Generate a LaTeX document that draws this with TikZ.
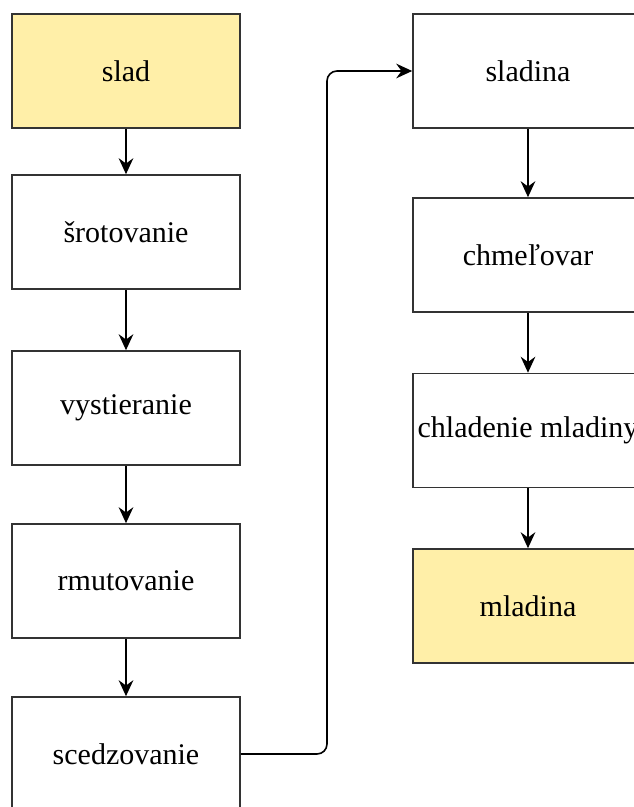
\documentclass[tikz,border=0pt]{standalone}
\usepackage{fontspec}
\setmainfont{Liberation Serif}
\usetikzlibrary{arrows.meta}
\definecolor{boxline}{HTML}{333333}
\definecolor{boxyellow}{HTML}{FFEFA8}
\tikzset{
  stepbox/.style={draw=boxline, line width=1.2pt, fill=white, rectangle,
    minimum width=171pt, minimum height=85.5pt, inner sep=0pt,
    font=\fontsize{22.5pt}{26pt}\selectfont},
  rightbox/.style={stepbox, minimum width=172.5pt},
  endbox/.style={fill=boxyellow},
  arr/.style={draw=black, line width=1.2pt, -{Stealth[length=12pt,width=11pt,inset=4pt]}},
}
\begin{document}
\begin{tikzpicture}[x=0.75pt,y=-0.75pt]
\useasboundingbox (0,0) rectangle (633,807);
\node[stepbox,endbox] (slad) at (126,71) {slad};
\node[stepbox] (srot) at (126,232) {šrotovanie};
\node[stepbox] (vyst) at (126,408) {vystieranie};
\node[stepbox] (rmut) at (126,581) {rmutovanie};
\node[stepbox] (sced) at (126,754) {scedzovanie};
\node[rightbox] (sladina) at (528,71) {sladina};
\node[rightbox] (chmel) at (528,255) {chmeľovar};
\node[rightbox] (chlad) at (528,430.5) {chladenie mladiny};
\node[rightbox,endbox] (mlad) at (528,606) {mladina};
\coordinate (turn) at (327,400);
\draw[arr] (slad) -- (srot);
\draw[arr] (srot) -- (vyst);
\draw[arr] (vyst) -- (rmut);
\draw[arr] (rmut) -- (sced);
\draw[arr, rounded corners=7.5pt] (sced.east) -| (turn) |- (sladina.west);
\draw[arr] (sladina) -- (chmel);
\draw[arr] (chmel) -- (chlad);
\draw[arr] (chlad) -- (mlad);
\end{tikzpicture}
\end{document}
